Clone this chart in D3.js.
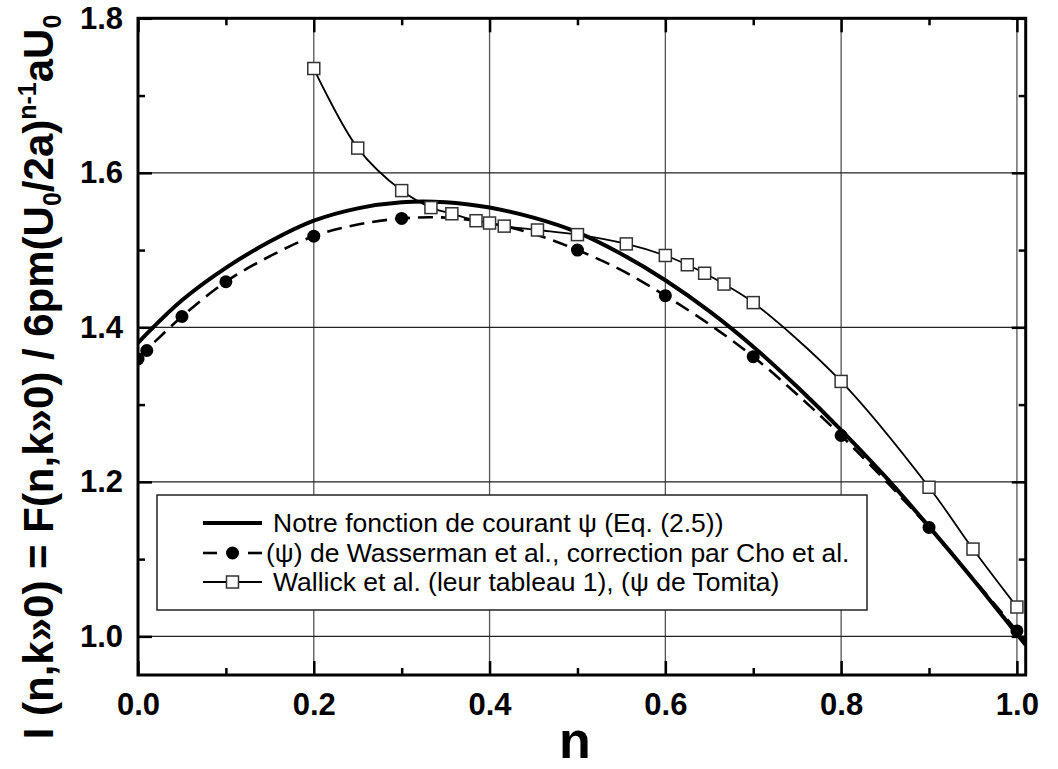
<!DOCTYPE html>
<meta charset="utf-8" />
<script src="https://d3js.org/d3.v7.min.js"></script>
<style>
  body { margin: 0; background: #fff; }
  text { font-family: "Liberation Sans", Arial, sans-serif; }
</style>
<svg width="1058" height="769" id="chart"></svg>
<script>
  var nFit = [0, 0.05, 0.1, 0.15, 0.2, 0.25, 0.3, 0.35, 0.4, 0.45, 0.5,
              0.55, 0.6, 0.65, 0.7, 0.75, 0.8, 0.85, 0.9, 0.95, 1.0, 1.01];
  // our stream function (thick line)
  var ourI = [1.380, 1.435, 1.477, 1.511, 1.538, 1.554, 1.562, 1.562, 1.555, 1.542, 1.523,
              1.495, 1.461, 1.421, 1.375, 1.323, 1.267, 1.207, 1.142, 1.074, 1.003, 0.989];
  // Wasserman dashed curve
  var wassCurveI = [1.360, 1.414, 1.459, 1.492, 1.518, 1.533, 1.541, 1.542, 1.535, 1.521, 1.500,
                    1.474, 1.441, 1.404, 1.362, 1.313, 1.260, 1.202, 1.141, 1.075, 1.007, 0.993];
  // Wasserman points (filled circles)
  var wassN = [0, 0.01, 0.05, 0.1, 0.2, 0.3, 0.5, 0.6, 0.7, 0.8, 0.9, 1.0];
  var wassI = [1.359, 1.370, 1.414, 1.459, 1.518, 1.541, 1.500, 1.441, 1.362, 1.260, 1.141, 1.007];
  // Wallick table 1 (open squares)
  var wallN = [0.2, 0.25, 0.3, 0.3333, 0.3571, 0.3846, 0.4, 0.4167, 0.4545, 0.5, 0.5556,
               0.6, 0.625, 0.6447, 0.6667, 0.7, 0.8, 0.9, 0.95, 1.0];
  var wallI = [1.735, 1.632, 1.577, 1.555, 1.547, 1.538, 1.535, 1.531, 1.526, 1.520, 1.508,
               1.493, 1.481, 1.470, 1.456, 1.432, 1.330, 1.193, 1.113, 1.038];

  var xMajor = [0, 0.2, 0.4, 0.6, 0.8, 1.0];
  var xMinor = [0.1, 0.3, 0.5, 0.7, 0.9];
  var yMajor = [1.0, 1.2, 1.4, 1.6, 1.8];
  var yMinor = [1.1, 1.3, 1.5, 1.7];
  var xGrid = [0.2, 0.4, 0.6, 0.8, 1.0];
  var yGrid = [1.0, 1.2, 1.4, 1.6];

  var legendLabels = [
    "Notre fonction de courant \u03c8 (Eq. (2.5))",
    "(\u03c8) de Wasserman et al., correction par Cho et al.",
    "Wallick et al. (leur tableau 1), (\u03c8 de Tomita)"
  ];

  var svg = d3.select("#chart");
  var pLeft = 138, pRight = 1025.7, pTop = 18.3, pBottom = 675;

  var x = d3.scaleLinear().domain([0, 1.01]).range([pLeft, pRight]);
  var y = d3.scaleLinear().domain([0.95, 1.8]).range([pBottom, pTop]);

  svg.append("rect").attr("width", 1058).attr("height", 769).attr("fill", "#fff");

  // grid
  svg.append("g").selectAll("line").data(xGrid).enter().append("line")
    .attr("x1", function (d) { return x(d); }).attr("x2", function (d) { return x(d); })
    .attr("y1", pTop).attr("y2", pBottom)
    .attr("stroke", "#555").attr("stroke-width", 1.3);
  svg.append("g").selectAll("line").data(yGrid).enter().append("line")
    .attr("y1", function (d) { return y(d); }).attr("y2", function (d) { return y(d); })
    .attr("x1", pLeft).attr("x2", pRight)
    .attr("stroke", "#222").attr("stroke-width", 1.3);

  // ticks on all four sides, pointing inward
  function ticks(axisFn, scale, vals, size, tx, ty, labels, pad) {
    var ax = axisFn(scale).tickValues(vals).tickSizeInner(-size).tickSizeOuter(0)
      .tickPadding(pad || 0)
      .tickFormat(labels ? d3.format(".1f") : "");
    var g = svg.append("g").attr("transform", "translate(" + tx + "," + ty + ")").call(ax);
    g.select(".domain").remove();
    g.selectAll(".tick line").attr("stroke", "#000").attr("stroke-width", 2.5);
    g.selectAll("text").attr("fill", "#000").style("font-size", "31px").style("font-weight", "bold")
      .style("font-family", "'Liberation Sans', Arial, sans-serif");
    return g;
  }
  ticks(d3.axisBottom, x, xMajor, 14, 0, pBottom, true, 18);
  ticks(d3.axisBottom, x, xMinor, 7, 0, pBottom, false);
  ticks(d3.axisTop, x, xMajor, 14, 0, pTop, false);
  ticks(d3.axisTop, x, xMinor, 7, 0, pTop, false);
  ticks(d3.axisLeft, y, yMajor, 14, pLeft, 0, true, 15);
  ticks(d3.axisLeft, y, yMinor, 7, pLeft, 0, false);
  ticks(d3.axisRight, y, yMajor, 14, pRight, 0, false);
  ticks(d3.axisRight, y, yMinor, 7, pRight, 0, false);

  // frame
  svg.append("rect").attr("x", pLeft).attr("y", pTop)
    .attr("width", pRight - pLeft).attr("height", pBottom - pTop)
    .attr("fill", "none").attr("stroke", "#000").attr("stroke-width", 3);

  svg.append("clipPath").attr("id", "plotclip").append("rect")
    .attr("x", pLeft).attr("y", pTop).attr("width", pRight - pLeft).attr("height", pBottom - pTop);

  var line = d3.line()
    .x(function (d) { return x(d[0]); })
    .y(function (d) { return y(d[1]); })
    .curve(d3.curveCatmullRom.alpha(0.5));

  var plot = svg.append("g").attr("clip-path", "url(#plotclip)");

  // Wallick thin line
  plot.append("path").datum(d3.zip(wallN, wallI)).attr("d", line)
    .attr("fill", "none").attr("stroke", "#000").attr("stroke-width", 1.8);

  // Wasserman dashed line
  plot.append("path").datum(d3.zip(nFit, wassCurveI)).attr("d", line)
    .attr("fill", "none").attr("stroke", "#000").attr("stroke-width", 2.6)
    .attr("stroke-dasharray", "15,8");

  // our function, thick
  plot.append("path").datum(d3.zip(nFit, ourI)).attr("d", line)
    .attr("fill", "none").attr("stroke", "#000").attr("stroke-width", 4);

  plot.append("g").selectAll("circle").data(d3.zip(wassN, wassI)).enter().append("circle")
    .attr("cx", function (d) { return x(d[0]); })
    .attr("cy", function (d) { return y(d[1]); })
    .attr("r", 6.5).attr("fill", "#000");

  plot.append("g").selectAll("rect").data(d3.zip(wallN, wallI)).enter().append("rect")
    .attr("x", function (d) { return x(d[0]) - 6; })
    .attr("y", function (d) { return y(d[1]) - 6; })
    .attr("width", 12).attr("height", 12)
    .attr("fill", "#fff").attr("stroke", "#333").attr("stroke-width", 1.5);

  // legend
  var lg = svg.append("g");
  lg.append("rect").attr("x", 157).attr("y", 495).attr("width", 710).attr("height", 115)
    .attr("fill", "#fff").attr("stroke", "#222").attr("stroke-width", 1.5);
  var rowY = [523, 553, 582];
  var sx1 = 203, sx2 = 262, sxm = 232.5;
  lg.append("line").attr("x1", sx1).attr("x2", sx2).attr("y1", rowY[0]).attr("y2", rowY[0])
    .attr("stroke", "#000").attr("stroke-width", 4);
  lg.append("line").attr("x1", sx1).attr("x2", sx1 + 14).attr("y1", rowY[1]).attr("y2", rowY[1])
    .attr("stroke", "#000").attr("stroke-width", 2.6);
  lg.append("line").attr("x1", sx2 - 14).attr("x2", sx2).attr("y1", rowY[1]).attr("y2", rowY[1])
    .attr("stroke", "#000").attr("stroke-width", 2.6);
  lg.append("circle").attr("cx", sxm).attr("cy", rowY[1]).attr("r", 6.5).attr("fill", "#000");
  lg.append("line").attr("x1", sx1).attr("x2", sx2).attr("y1", rowY[2]).attr("y2", rowY[2])
    .attr("stroke", "#000").attr("stroke-width", 1.8);
  lg.append("rect").attr("x", sxm - 6).attr("y", rowY[2] - 6).attr("width", 12).attr("height", 12)
    .attr("fill", "#fff").attr("stroke", "#333").attr("stroke-width", 1.5);
  lg.selectAll("text.lab").data(legendLabels).enter().append("text").attr("class", "lab")
    .attr("x", function (d, i) { return i == 1 ? 266 : 273; })
    .attr("y", function (d, i) { return rowY[i]; })
    .attr("dy", "0.35em")
    .style("font-size", "26.5px")
    .text(function (d) { return d; });

  // x label
  svg.append("text").attr("x", 575).attr("y", 758)
    .attr("text-anchor", "middle").style("font-size", "52px").style("font-weight", "bold")
    .text("n");

  // y label with sub/superscripts
  var yl = svg.append("text")
    .attr("transform", "translate(53,377)rotate(-90)")
    .attr("text-anchor", "middle").style("font-size", "42px").style("font-weight", "bold");
  yl.append("tspan").text("I (n,k\u00bb0) = F(n,k\u00bb0) / 6pm(U");
  yl.append("tspan").attr("dy", 8).style("font-size", "25px").text("0");
  yl.append("tspan").attr("dy", -8).text("/2a)");
  yl.append("tspan").attr("dy", -17).style("font-size", "25px").text("n-1");
  yl.append("tspan").attr("dy", 17).text("aU");
  yl.append("tspan").attr("dy", 8).style("font-size", "25px").text("0");
</script>
